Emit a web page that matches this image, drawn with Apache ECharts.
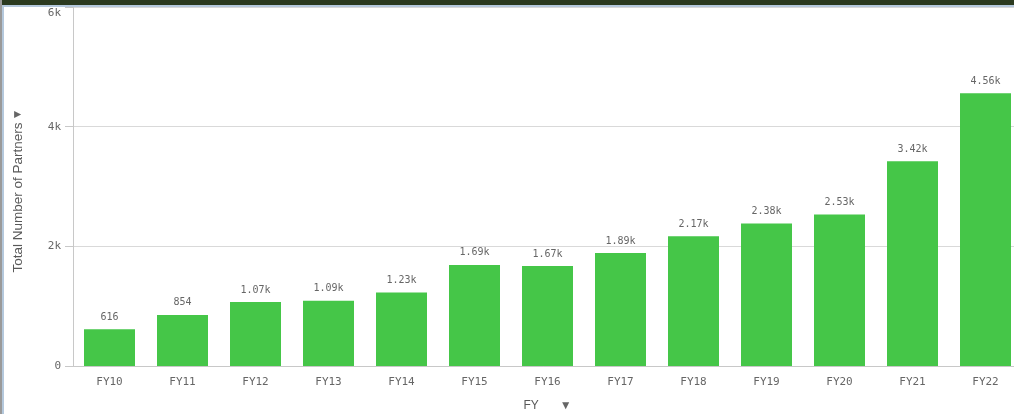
<!DOCTYPE html>
<html>
<head>
<meta charset="utf-8">
<script src="https://cdn.jsdelivr.net/npm/echarts@6/dist/echarts.min.js"></script>
<style>
html,body{margin:0;padding:0;background:#fff;}
#c{width:1014px;height:414px;}
</style>
</head>
<body>
<div id="c"></div>
<script>
var categories = ['FY10','FY11','FY12','FY13','FY14','FY15','FY16','FY17','FY18','FY19','FY20','FY21','FY22'];
var partners = [616, 854, 1070, 1090, 1230, 1690, 1670, 1890, 2170, 2380, 2530, 3420, 4560];
var yTicks = [0, 2000, 4000, 6000];

function fmtK(v){
  if (v < 1000) return String(v);
  return (v/1000).toFixed(2) + 'k';
}
var chart = echarts.init(document.getElementById('c'));
var mono = 'DejaVu Sans Mono';
chart.setOption({
  animation: false,
  graphic: [
    {type:'rect', shape:{x:0,y:0,width:1014,height:5}, style:{fill:'#2b3a1f'}, z:100},
    {type:'rect', shape:{x:0,y:5,width:1014,height:2}, style:{fill:'#b4c8dc'}, z:100},
    {type:'rect', shape:{x:0,y:0,width:2,height:414}, style:{fill:'#9a9a9a'}, z:100},
    {type:'rect', shape:{x:2,y:5,width:2,height:409}, style:{fill:'#b4c8dc'}, z:100}
  ],
  grid: {left: 73, top: 7, width: 949, bottom: 48, outerBoundsMode: 'none', containLabel: false},
  xAxis: {
    type: 'category',
    data: categories,
    axisLine: {lineStyle: {color: '#c8c8c8'}},
    axisTick: {show: false},
    axisLabel: {color: '#666', fontFamily: mono, fontSize: 11, margin: 11},
    name: '{t|FY}{a|▼}',
    nameLocation: 'middle',
    nameGap: 34,
    nameTextStyle: {
      rich: {
        t: {fontFamily: 'Liberation Sans', fontSize: 12, color: '#595959', padding:[0,21,0,0]},
        a: {fontSize: 12, color: '#666'}
      }
    }
  },
  yAxis: {
    type: 'value',
    min: 0, max: 6000, interval: 2000,
    axisLine: {show: true, lineStyle: {color: '#c8c8c8'}},
    axisTick: {show: true, length: 8, lineStyle: {color: '#c8c8c8'}},
    splitLine: {lineStyle: {color: '#d9d9d9'}},
    axisLabel: {
      color: '#666', fontFamily: mono, fontSize: 11, margin: 12,
      formatter: function(v){
        if (v === 0) return '0';
        if (v === yTicks[yTicks.length-1]) return '{top|' + (v/1000) + 'k}';
        return (v/1000) + 'k';
      },
      rich: {
        top: {color: '#666', fontFamily: mono, fontSize: 11, padding: [12,0,0,0]}
      }
    },
    name: '{t|Total Number of Partners}{a|▼}',
    nameLocation: 'middle',
    nameGap: 48,
    nameRotate: 90,
    nameTextStyle: {
      rich: {
        t: {fontFamily: 'Liberation Sans', fontSize: 13.5, color: '#595959', padding:[0,2,0,0]},
        a: {fontSize: 12, color: '#666', padding:[0,8,0,0]}
      }
    }
  },
  series: [{
    type: 'bar',
    data: partners,
    barWidth: 51,
    itemStyle: {color: '#45c648'},
    label: {
      show: true, position: 'top', distance: 7,
      color: '#666', fontFamily: mono, fontSize: 10,
      formatter: function(p){ return fmtK(p.value); }
    }
  }]
});
</script>
</body>
</html>
